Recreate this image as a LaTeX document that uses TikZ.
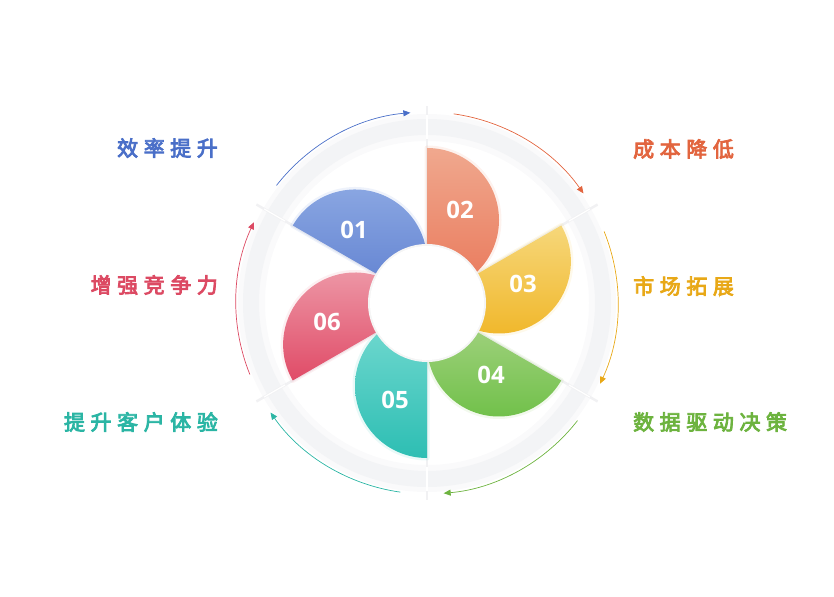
\documentclass[tikz,border=0pt]{standalone}
\usepackage{fontspec}
\newfontfamily\cjk{Noto Sans CJK SC}[FakeBold=4]
\newfontfamily\numfont{Open Sans}
\usepackage{xcolor}
\definecolor{Blue}{HTML}{5F80D0}
\definecolor{BlueLight}{HTML}{8DA9E3}
\definecolor{BlueText}{HTML}{4A6FC8}
\definecolor{Salmon}{HTML}{E9785A}
\definecolor{SalmonLight}{HTML}{F0A88E}
\definecolor{SalmonText}{HTML}{E2653F}
\definecolor{Amber}{HTML}{F0B525}
\definecolor{AmberLight}{HTML}{F6D77A}
\definecolor{AmberText}{HTML}{E8A817}
\definecolor{Leaf}{HTML}{6CBF45}
\definecolor{LeafLight}{HTML}{A8D486}
\definecolor{LeafText}{HTML}{6DB33F}
\definecolor{Teal}{HTML}{2DBEB3}
\definecolor{TealLight}{HTML}{75DAD1}
\definecolor{TealText}{HTML}{2BB5A4}
\definecolor{Rose}{HTML}{E04B67}
\definecolor{RoseLight}{HTML}{EE9CAA}
\definecolor{RoseText}{HTML}{DC4A63}
\definecolor{Ring}{HTML}{F3F4F6}
\definecolor{RingSoft}{HTML}{FAFAFB}
\definecolor{Gap}{HTML}{F1F1F3}
\usepackage{tikz}
\usetikzlibrary{arrows.meta}

\begin{document}
\begin{tikzpicture}[x=1bp,y=1bp,every node/.style={inner sep=0pt},
num/.style={font=\numfont\bfseries\fontsize{24}{24}\selectfont,text=white},
lab/.style={font=\cjk\fontsize{21}{21}\selectfont\addfontfeature{LetterSpace=27}},
arr/.style={-{Triangle[length=7bp,width=6bp]},line width=0.7bp},
glow/.style={line width=5bp,opacity=.15,line join=round}]
\useasboundingbox (0,0) rectangle (834,597);
\coordinate (o) at (427,294);
% ring behind the petals
\fill[RingSoft,even odd rule] (o) circle (189bp) (o) circle (162bp);
\fill[Ring,even odd rule] (o) circle (184bp) (o) circle (168bp);
% gaps between the six segments
\draw[Gap,line width=2.5bp] (o) -- ++(90:197bp);\draw[Gap,line width=2.5bp] (o) -- ++(30:197bp);\draw[Gap,line width=2.5bp] (o) -- ++(-30:197bp);
\draw[Gap,line width=2.5bp] (o) -- ++(-90:197bp);\draw[Gap,line width=2.5bp] (o) -- ++(-150:197bp);\draw[Gap,line width=2.5bp] (o) -- ++(150:197bp);
\draw[white,line width=1.2bp] (o) ++(90:164bp) -- ++(90:24bp);\draw[white,line width=1.2bp] (o) ++(30:164bp) -- ++(30:24bp);\draw[white,line width=1.2bp] (o) ++(-30:164bp) -- ++(-30:24bp);
\draw[white,line width=1.2bp] (o) ++(-90:164bp) -- ++(-90:24bp);\draw[white,line width=1.2bp] (o) ++(-150:164bp) -- ++(-150:24bp);\draw[white,line width=1.2bp] (o) ++(150:164bp) -- ++(150:24bp);
% petal tips
\path (o) ++(150:155bp) coordinate (t1);
\path (o) ++(90:155bp) coordinate (t2);
\path (o) ++(30:155bp) coordinate (t3);
\path (o) ++(-30:155bp) coordinate (t4);
\path (o) ++(-90:155bp) coordinate (t5);
\path (o) ++(-150:155bp) coordinate (t6);
% petals
\draw[glow,BlueLight] (t1) arc[start angle=150,end angle=-30,radius=72bp] -- cycle;
\shade[top color=BlueLight,bottom color=Blue] (t1) arc[start angle=150,end angle=-30,radius=72bp] -- cycle;
\draw[glow,SalmonLight] (t2) arc[start angle=90,end angle=-90,radius=72bp] -- cycle;
\shade[top color=SalmonLight,bottom color=Salmon] (t2) arc[start angle=90,end angle=-90,radius=72bp] -- cycle;
\draw[glow,AmberLight] (t3) arc[start angle=30,end angle=-150,radius=72bp] -- cycle;
\shade[top color=AmberLight,bottom color=Amber] (t3) arc[start angle=30,end angle=-150,radius=72bp] -- cycle;
\draw[glow,LeafLight] (t4) arc[start angle=-30,end angle=-210,radius=72bp] -- cycle;
\shade[top color=LeafLight,bottom color=Leaf] (t4) arc[start angle=-30,end angle=-210,radius=72bp] -- cycle;
\draw[glow,TealLight] (t5) arc[start angle=-90,end angle=-270,radius=72bp] -- cycle;
\shade[top color=TealLight,bottom color=Teal] (t5) arc[start angle=-90,end angle=-270,radius=72bp] -- cycle;
\draw[glow,RoseLight] (t6) arc[start angle=-150,end angle=-330,radius=72bp] -- cycle;
\shade[top color=RoseLight,bottom color=Rose] (t6) arc[start angle=-150,end angle=-330,radius=72bp] -- cycle;
% hub
\fill[black!4] (o) circle (59bp);
\fill[white] (o) circle (57bp);
% numbers
\node[num] (n1) at (354,367) {01};
\node[num] (n2) at (460,387) {02};
\node[num] (n3) at (523,313.5) {03};
\node[num] (n4) at (491,222) {04};
\node[num] (n5) at (395,197) {05};
\node[num] (n6) at (327,275.5) {06};
% outer arrows
\path (o) ++(142:191bp) coordinate (a1);\path (o) ++(82:191bp) coordinate (a2);\path (o) ++(22:191bp) coordinate (a3);
\path (o) ++(-38:191bp) coordinate (a4);\path (o) ++(-98:191bp) coordinate (a5);\path (o) ++(-158:191bp) coordinate (a6);
\draw[arr,BlueText] (a1) arc[start angle=142,end angle=95,radius=191bp];
\draw[arr,SalmonText] (a2) arc[start angle=82,end angle=35,radius=191bp];
\draw[arr,AmberText] (a3) arc[start angle=22,end angle=-25,radius=191bp];
\draw[arr,LeafText] (a4) arc[start angle=-38,end angle=-85,radius=191bp];
\draw[arr,TealText] (a5) arc[start angle=-98,end angle=-145,radius=191bp];
\draw[arr,RoseText] (a6) arc[start angle=-158,end angle=-205,radius=191bp];
% labels
\node[lab,text=BlueText,anchor=east] (l1) at (218,449) {效率提升};
\node[lab,text=SalmonText,anchor=west] (l2) at (633,448) {成本降低};
\node[lab,text=AmberText,anchor=west] (l3) at (633,311) {市场拓展};
\node[lab,text=LeafText,anchor=west] (l4) at (633,175) {数据驱动决策};
\node[lab,text=TealText,anchor=east] (l5) at (218,175) {提升客户体验};
\node[lab,text=RoseText,anchor=east] (l6) at (218,312) {增强竞争力};
\end{tikzpicture}
\end{document}
